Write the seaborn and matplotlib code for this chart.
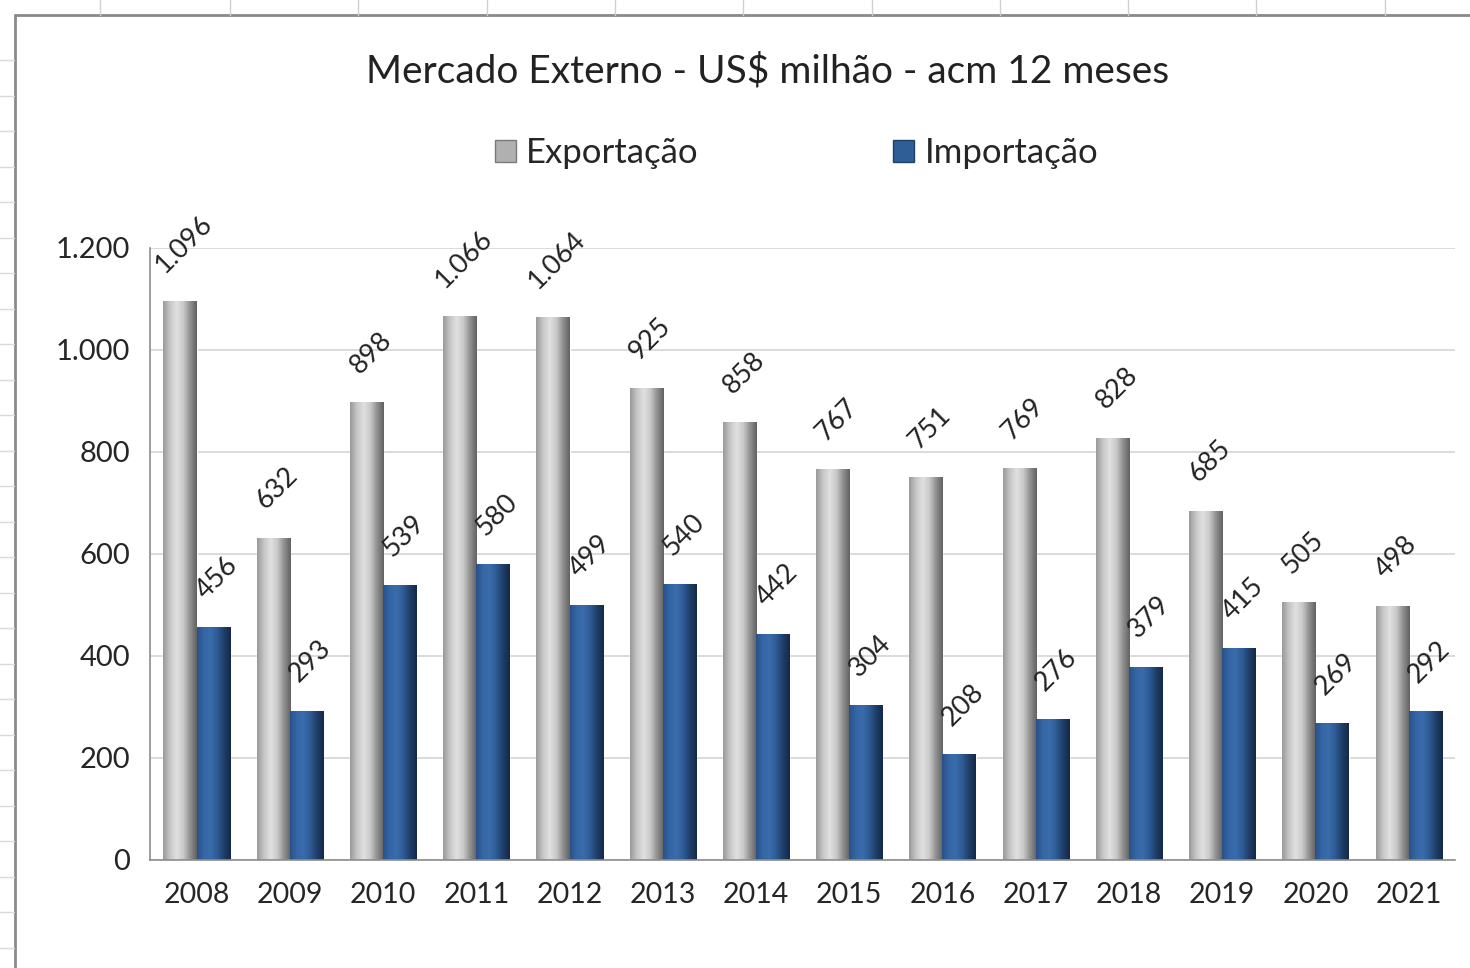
import numpy as np
import pandas as pd
import matplotlib
matplotlib.use("Agg")
import matplotlib.pyplot as plt
from matplotlib.colors import LinearSegmentedColormap
from matplotlib.lines import Line2D
import seaborn as sns

anos = ["2008", "2009", "2010", "2011", "2012", "2013", "2014",
        "2015", "2016", "2017", "2018", "2019", "2020", "2021"]
exportacao = [1096, 632, 898, 1066, 1064, 925, 858, 767, 751, 769, 828, 685, 505, 498]
importacao = [456, 293, 539, 580, 499, 540, 442, 304, 208, 276, 379, 415, 269, 292]
series = ["Exportação", "Importação"]
yticks = [0, 200, 400, 600, 800, 1000, 1200]

df = pd.DataFrame({
    "Ano": anos * 2,
    "Valor": exportacao + importacao,
    "Serie": [series[0]] * len(anos) + [series[1]] * len(anos),
})

sns.set_style("white")
plt.rcParams["font.family"] = ["Lato", "DejaVu Sans"]

fig = plt.figure(figsize=(14.7, 9.68), dpi=100)
ax = fig.add_axes([0.102, 0.1116, 0.888, 0.6324])

cores = {"Exportação": "#bdbdbd", "Importação": "#2f5d96"}
sns.barplot(data=df, x="Ano", y="Valor", hue="Serie", palette=cores,
            width=0.71, saturation=1, ax=ax, legend=False)

# efeito cilindro tipo Excel
cmap_cinza = LinearSegmentedColormap.from_list(
    "cinza", ["#9a9a9a", "#c6c6c6", "#e0e0e0", "#cacaca", "#919191", "#626262"])
cmap_azul = LinearSegmentedColormap.from_list(
    "azul", ["#2a5288", "#3566a6", "#3a6cab", "#2e5b95", "#1f3f68", "#15294a"])
grad = np.linspace(0, 1, 64).reshape(1, -1)
barras = list(ax.patches)
n = len(anos)
for i, p in enumerate(barras):
    x, w, h = p.get_x(), p.get_width(), p.get_height()
    cm = cmap_cinza if i < n else cmap_azul
    im = ax.imshow(grad, extent=[x, x + w, 0, h], aspect="auto", cmap=cm,
                   zorder=p.get_zorder() + 0.1, interpolation="bilinear")
    im.set_clip_path(p)

# rotulos de dados
for i, p in enumerate(barras):
    v = p.get_height()
    txt = f"{v:,.0f}".replace(",", ".")
    ax.annotate(txt, (p.get_x() + p.get_width() / 2, v), xytext=(3, 17),
                textcoords="offset points", rotation=45, ha="center", va="bottom",
                fontsize=19.5, color="#222222", zorder=5)

ax.set_xlim(-0.5, n - 0.5)
ax.set_ylim(0, 1200)
ax.set_yticks(yticks)
ax.set_yticklabels([f"{t:,}".replace(",", ".") for t in yticks], fontsize=21)
ax.set_xticks(range(n))
ax.set_xticklabels(anos, fontsize=20.5)
ax.set_xticks(np.arange(-0.5, n, 1), minor=True)
ax.tick_params(axis="x", which="major", length=0, pad=16)
ax.tick_params(axis="x", which="minor", length=8, color="#8c8c8c", width=1.2)
ax.tick_params(axis="y", which="major", length=8, color="#8c8c8c", width=1.2, pad=6)
ax.set_xlabel("")
ax.set_ylabel("")
ax.yaxis.grid(True, color="#d4d4d4", linewidth=1.2)
ax.set_axisbelow(True)
for s in ["top", "right"]:
    ax.spines[s].set_visible(False)
for s in ["left", "bottom"]:
    ax.spines[s].set_color("#8c8c8c")
    ax.spines[s].set_linewidth(1.2)

fig.text(0.522, 0.926, "Mercado Externo - US$ milhão - acm 12 meses",
         ha="center", va="center", fontsize=28, color="#222222")

handles = [plt.Rectangle((0, 0), 1, 1, facecolor="#b0b0b0", edgecolor="#7a7a7a"),
           plt.Rectangle((0, 0), 1, 1, facecolor="#2f5d96", edgecolor="#1f3f68")]
fig.legend(handles, series, loc="center", bbox_to_anchor=(0.542, 0.842), ncol=2,
           frameon=False, fontsize=25, handlelength=0.6, handleheight=0.6,
           handletextpad=0.3, columnspacing=5.6)

# moldura do grafico / grade da planilha
fig.add_artist(Line2D([0.0102, 0.0102], [0, 0.9845], color="#8a8a8a", lw=2,
                      transform=fig.transFigure))
fig.add_artist(Line2D([0.0102, 1], [0.9845, 0.9845], color="#8a8a8a", lw=2,
                      transform=fig.transFigure))
for xc in [100, 230, 358, 487, 615, 743, 872, 1000, 1128, 1256, 1385]:
    fig.add_artist(Line2D([xc / 1470, xc / 1470], [0.9845, 1], color="#d0d0d0",
                          lw=1, transform=fig.transFigure))
for yr in np.arange(60, 968, 35.5):
    fig.add_artist(Line2D([0, 0.0095], [1 - yr / 968, 1 - yr / 968], color="#dadada",
                          lw=1, transform=fig.transFigure))

fig.savefig("out.png", dpi=100, facecolor="white")
